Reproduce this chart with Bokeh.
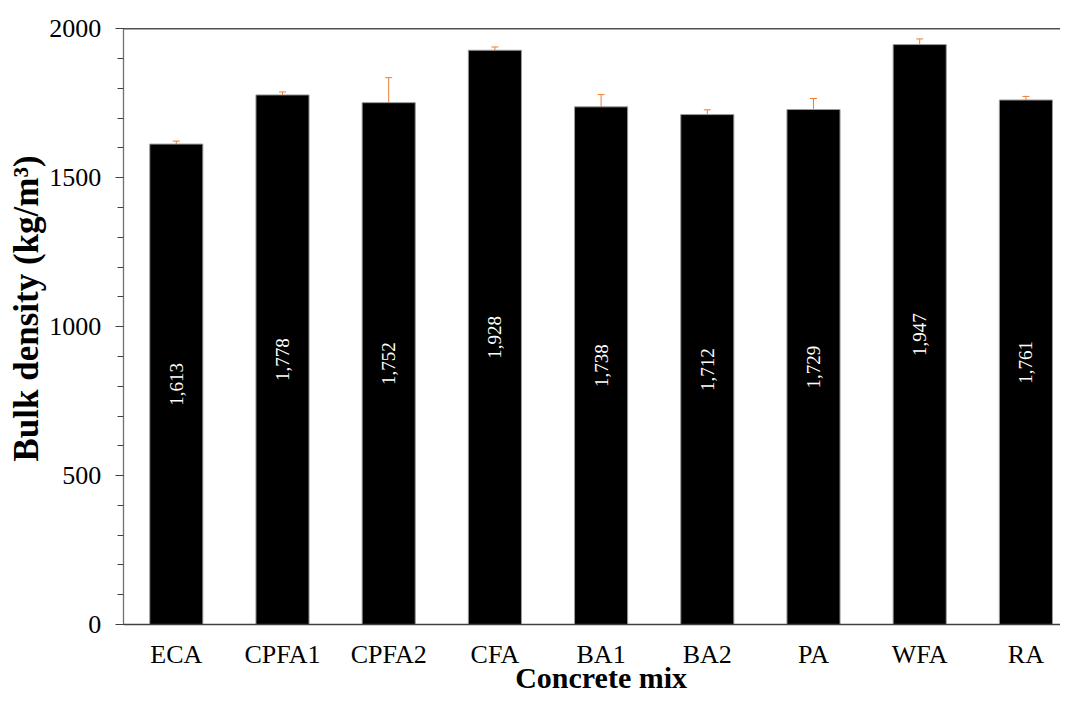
import numpy as np
from bokeh.plotting import figure
from bokeh.models import (ColumnDataSource, Range1d, FixedTicker, SingleIntervalTicker,
                          Whisker, TeeHead, Label, LabelSet)
from bokeh.core.properties import value
from bokeh.embed import file_html
from bokeh.resources import INLINE

# ---- data ----
categories = ["ECA", "CPFA1", "CPFA2", "CFA", "BA1", "BA2", "PA", "WFA", "RA"]
bulk_density = [1613, 1778, 1752, 1928, 1738, 1712, 1729, 1947, 1761]
error = [10, 10, 84, 11, 41, 16, 37, 19, 12]
y_max = 2000
y_tick_interval = 500

# ---- layout (pixels on the canvas) ----
W, H = 1060, 696
AX_LEFT_PX = 122.7       # y-axis position
AX_BOTTOM_PX = 624.0     # x-axis position
AX_TOP_PX = 28.3         # y = y_max
CAT_PX = 106.2           # width of one category slot

px_per_unit = (AX_BOTTOM_PX - AX_TOP_PX) / y_max
x_start = -0.5 - AX_LEFT_PX / CAT_PX
x_end = -0.5 + (W - AX_LEFT_PX) / CAT_PX
y_start = -(H - AX_BOTTOM_PX) / px_per_unit
y_end = y_max + AX_TOP_PX / px_per_unit

def ypx(py):  # canvas pixel row -> data y
    return (AX_BOTTOM_PX - py) / px_per_unit

def xpx(px):  # canvas pixel column -> data x
    return -0.5 + (px - AX_LEFT_PX) / CAT_PX

x = list(range(len(categories)))
src = ColumnDataSource(dict(
    x=x,
    y=bulk_density,
    mid=[v / 2 for v in bulk_density],
    label=[f"{v:,}" for v in bulk_density],
    upper=[v + e for v, e in zip(bulk_density, error)],
    lower=[v - e for v, e in zip(bulk_density, error)],
))

FONT = "Liberation Serif"

p = figure(width=W, height=H, output_backend="svg", toolbar_location=None,
           x_range=Range1d(x_start, x_end), y_range=Range1d(y_start, y_end),
           min_border=0, min_border_left=0, min_border_right=0,
           min_border_top=0, min_border_bottom=0)
p.outline_line_color = None
p.xgrid.visible = False
p.ygrid.visible = False
p.background_fill_color = "white"
p.border_fill_color = "white"

p.vbar(x="x", top="y", width=0.5, source=src, fill_color="black",
       line_color="#9a9a9a", line_width=1)

whisk = Whisker(base="x", upper="upper", lower="lower", source=src,
                line_color="#ED7D31", line_width=1,
                upper_head=TeeHead(size=7, line_color="#ED7D31", line_width=1),
                lower_head=TeeHead(size=7, line_color="#ED7D31", line_width=1))
p.add_layout(whisk)

labels = LabelSet(x="x", y="mid", text="label", source=src, angle=np.pi / 2,
                  text_color="white", text_font=value(FONT), text_font_size=value("19px"),
                  text_align="center", text_baseline="middle")
p.add_layout(labels)

# top line at y_max
p.segment(x0=[-0.5], y0=[y_max], x1=[x_end], y1=[y_max], line_color="#505050", line_width=1.5)

# x axis
xa = p.xaxis[0]
xa.fixed_location = 0
xa.bounds = (-0.5, x_end)
xa.ticker = FixedTicker(ticks=x)
xa.major_label_overrides = {i: c for i, c in zip(x, categories)}
xa.major_tick_out = 0
xa.major_tick_in = 0
xa.minor_tick_out = 0
xa.minor_tick_in = 0
xa.axis_line_color = "#404040"
xa.axis_line_width = 1.5
xa.major_label_text_font = FONT
xa.major_label_text_font_size = "26px"
xa.major_label_text_color = "black"
xa.major_label_standoff = 15

# y axis
ya = p.yaxis[0]
ya.fixed_location = -0.5
ya.bounds = (0, y_max)
ya.ticker = SingleIntervalTicker(interval=y_tick_interval, num_minor_ticks=5)
ya.major_tick_out = 8
ya.major_tick_in = 0
ya.minor_tick_out = 6
ya.minor_tick_in = 0
ya.axis_line_color = "#707070"
ya.major_tick_line_color = "#404040"
ya.minor_tick_line_color = "#404040"
ya.axis_line_width = 1.3
ya.major_label_text_font = FONT
ya.major_label_text_font_size = "26px"
ya.major_label_text_color = "black"
ya.major_label_standoff = 14

# axis titles
p.add_layout(Label(x=(len(categories) - 1) / 2, y=ypx(677), text="Concrete mix",
                   text_font=FONT, text_font_size="30px", text_font_style="bold",
                   text_color="black", text_align="center", text_baseline="middle"))
p.add_layout(Label(x=xpx(26), y=ypx(308), text="Bulk density (kg/m³)", angle=np.pi / 2,
                   text_font=FONT, text_font_size="35px", text_font_style="bold",
                   text_color="black", text_align="center", text_baseline="middle"))

open("out.html", "w").write(file_html(p, INLINE))
